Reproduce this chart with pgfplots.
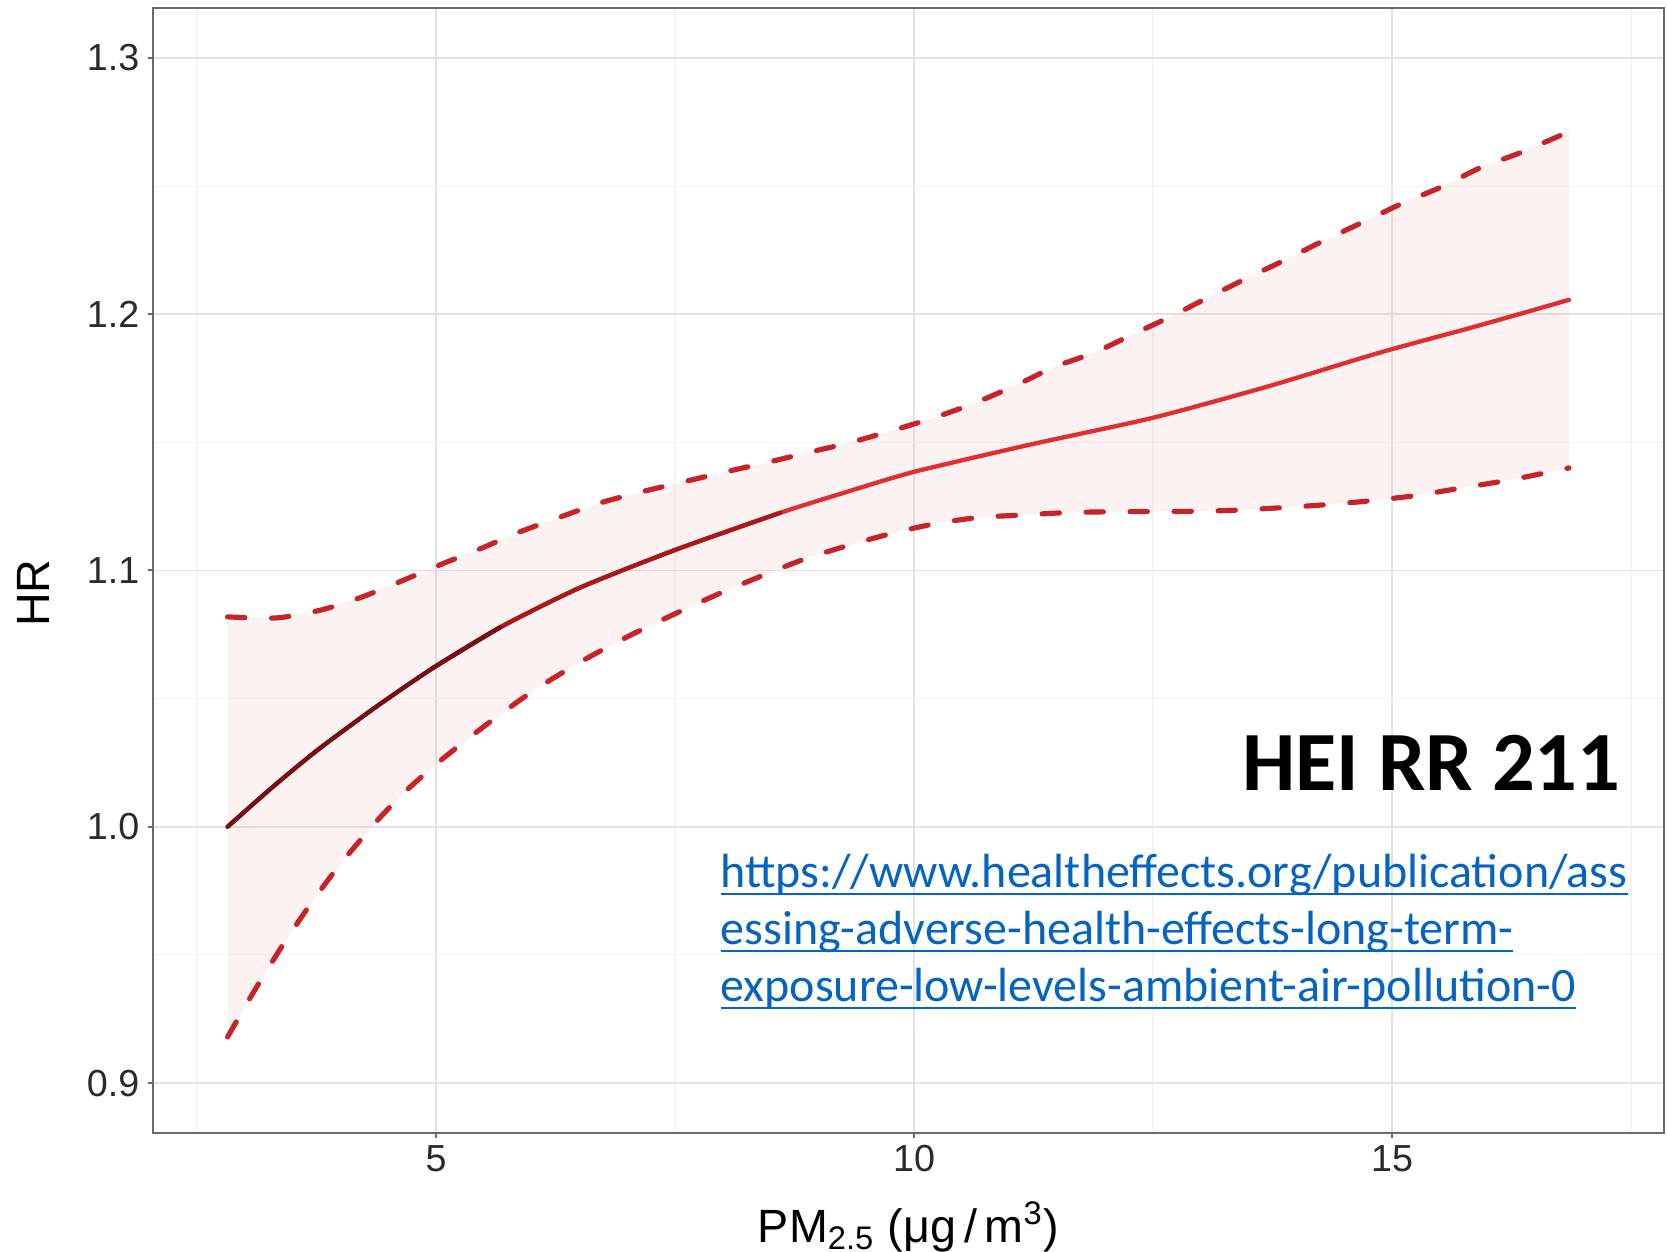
\documentclass[border=0pt]{standalone}
\usepackage{pgfplots}
\pgfplotsset{compat=1.18}
\usepgfplotslibrary{fillbetween}
\usepackage{fontspec}
\setmainfont{Liberation Sans}
\newfontfamily\calibri{Carlito}
\definecolor{gridmaj}{HTML}{E3E3E7}
\definecolor{gridmin}{HTML}{F4F4F6}
\definecolor{axisgray}{HTML}{6A6A6E}
\definecolor{ticktext}{HTML}{2A2A2A}
\definecolor{ribbon}{HTML}{E84040}
\definecolor{dashred}{RGB}{198,36,42}
\definecolor{linedark}{RGB}{112,18,22}
\definecolor{linemid}{RGB}{165,26,30}
\definecolor{linered}{RGB}{222,48,50}
\definecolor{linkblue}{HTML}{0563C1}
\newcommand{\ulink}[1]{\setbox0\hbox{#1}\rlap{\rule[-2.4pt]{\wd0}{0.6pt}}\box0}

\pgfplotstableread{
x y
2.82 1.0819
3.34 1.0815
3.81 1.0847
4.23 1.0897
4.62 1.0956
5.04 1.1022
5.49 1.1089
5.85 1.1147
6.28 1.1206
6.72 1.1264
7.15 1.1307
7.59 1.1346
8.03 1.1385
8.49 1.1424
8.90 1.1461
9.32 1.1498
9.80 1.1549
10.24 1.1600
10.64 1.1654
11.08 1.1725
11.47 1.1795
11.88 1.1849
12.28 1.1920
12.68 1.1990
13.08 1.2066
13.49 1.2142
13.90 1.2215
14.30 1.2290
14.70 1.2360
15.12 1.2435
15.52 1.2497
15.92 1.2571
16.34 1.2630
16.85 1.2712
}\tblup

\pgfplotstableread{
x y
2.82 0.9180
3.10 0.9360
3.40 0.9540
3.70 0.9705
4.00 0.9855
4.40 1.0030
4.70 1.0145
5.06 1.0262
5.50 1.0391
6.00 1.0526
6.50 1.0641
7.00 1.0741
7.50 1.0831
8.00 1.0916
8.60 1.1008
8.92 1.1053
9.36 1.1103
9.80 1.1148
10.24 1.1184
10.68 1.1207
11.16 1.1217
11.60 1.1226
12.04 1.1229
12.48 1.1230
12.92 1.1231
13.36 1.1235
13.84 1.1245
14.28 1.1256
14.72 1.1270
15.20 1.1290
15.70 1.1320
16.30 1.1358
16.85 1.1400
}\tbllo

\pgfplotstableread{
x y
2.82 1.0000
3.30 1.0158
3.77 1.0302
4.37 1.0467
4.97 1.0620
5.67 1.0778
6.50 1.0932
7.50 1.1080
8.60 1.1225
9.30 1.1307
10.00 1.1385
11.20 1.1490
12.50 1.1596
13.70 1.1718
14.87 1.1850
15.90 1.1955
16.85 1.2056
}\tblmid

\begin{document}
\begin{tikzpicture}
\begin{axis}[
  anchor=south west, at={(0pt,0pt)},
  scale only axis, width=453.3pt, height=337.5pt,
  xmin=2.04, xmax=17.845, ymin=0.8805, ymax=1.3195,
  xtick={5,10,15},
  ytick={0.9,1.0,1.1,1.2,1.3},
  yticklabels={0.9,1.0,1.1,1.2,1.3},
  minor xtick={2.5,7.5,12.5,17.5},
  minor ytick={0.95,1.05,1.15,1.25},
  xtick pos=bottom, ytick pos=left,
  grid=both,
  major grid style={color=gridmaj, line width=0.45pt},
  minor grid style={color=gridmin, line width=0.35pt},
  tick align=outside,
  major tick length=1.6pt, minor tick length=0pt,
  tick style={color=axisgray, line width=0.6pt},
  axis line style={color=axisgray, line width=0.6pt},
  ticklabel style={font=\fontsize{11.3}{13}\selectfont, text=ticktext},
  /pgf/number format/assume math mode=true,
  xticklabel style={anchor=north, inner sep=0pt, yshift=-2pt},
  yticklabel style={anchor=east, inner sep=0pt, xshift=-2.3pt},
  xlabel={PM\textsubscript{2.5} (μg\,/\,m\textsuperscript{3})},
  ylabel={HR},
  label style={font=\fontsize{14}{16}\selectfont, text=black},
  xlabel style={at={(axis description cs:0.5,-0.0969)}, anchor=base},
  ylabel style={at={(axis description cs:-0.0794,0.48)}, anchor=center},
]
\addplot[draw=none, name path=up, forget plot] table {\tblup};
\addplot[draw=none, name path=lo, forget plot] table {\tbllo};
\addplot[fill=ribbon, fill opacity=0.065, draw=none] fill between[of=up and lo];
\addplot[dashred, line width=1.55pt, line cap=round, dash pattern=on 5.2pt off 8pt, smooth, tension=0.4] table {\tblup};
\addplot[dashred, line width=1.55pt, line cap=round, dash pattern=on 5.2pt off 8pt, smooth, tension=0.4] table {\tbllo};
\addplot[linered, line width=1.3pt, line cap=round, smooth, tension=0.4] table {\tblmid};
\addplot[linemid, line width=1.3pt, line cap=round, smooth, tension=0.4] table[restrict x to domain=4.9:8.7] {\tblmid};
\addplot[linedark, line width=1.3pt, line cap=round, smooth, tension=0.4] table[restrict x to domain=2.8:5.7] {\tblmid};
\end{axis}
\node[anchor=base east, inner sep=0pt, font=\calibri\bfseries\fontsize{25.3}{28}\selectfont] at (440.4pt,102.9pt) {HEI RR 211};
\begin{scope}[every node/.style={anchor=base west, inner sep=0pt, text=linkblue, font=\calibri\fontsize{14.4}{17}\selectfont}]
\node at (170.1pt,73.8pt) {\ulink{https://www.healtheffects.org/publication/ass}};
\node at (170.1pt,56.7pt) {\ulink{essing-adverse-health-effects-long-term-}};
\node at (170.1pt,39.6pt) {\ulink{exposure-low-levels-ambient-air-pollution-0}};
\end{scope}
\pgfresetboundingbox
\useasboundingbox (-45.9pt,-35.4pt) rectangle (454.2pt,339.9pt);
\end{tikzpicture}
\end{document}
